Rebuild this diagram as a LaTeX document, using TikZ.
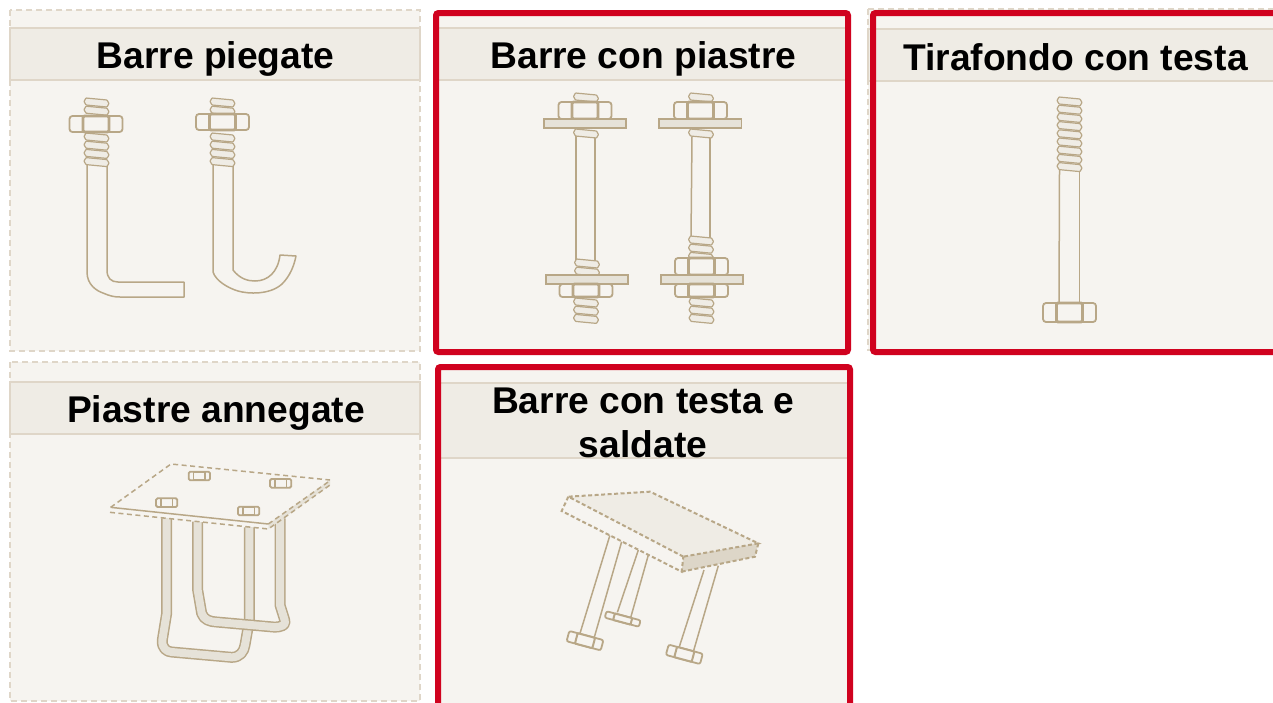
\documentclass[tikz,border=0pt]{standalone}
\usepackage{fontspec}
\setmainfont{Liberation Sans}
\definecolor{panelbg}{HTML}{F6F4F0}
\definecolor{headbg}{HTML}{EFECE5}
\definecolor{edgeline}{HTML}{DFD6C8}
\definecolor{boltcol}{HTML}{B8A787}
\definecolor{steelfill}{HTML}{E6E2D8}
\definecolor{sidefill}{HTML}{DDD6C8}
\definecolor{redframe}{HTML}{D0021F}
\tikzset{
  panelbox/.style={fill=panelbg,draw=edgeline,line width=1.2pt,dash pattern=on 6pt off 4pt},
  headband/.style={fill=headbg,draw=edgeline,line width=1.2pt},
  redbox/.style={draw=redframe,line width=6pt,rounded corners=2.5pt},
  titletext/.style={font=\fontsize{37.2}{44}\selectfont\bfseries,text=black,align=center,inner sep=0pt},
  boltline/.style={draw=boltcol,line width=1.5pt,line join=round},
  nutline/.style={draw=boltcol,line width=1.8pt,rounded corners=3pt,fill=panelbg},
  nutcore/.style={draw=boltcol,line width=2.6pt,rounded corners=1.5pt,fill=panelbg},
  plateline/.style={draw=boltcol,line width=1.5pt,fill=steelfill},
  dashedge/.style={draw=boltcol,line width=1.5pt,dash pattern=on 5pt off 3.5pt},
  dashedgeb/.style={draw=boltcol,line width=2pt,dash pattern=on 4pt off 2.5pt},
}
% thread: centre x, top y, ridges
\newcommand{\boltthread}[3]{%
  \foreach \k in {1,...,#3}{%
    \pgfmathsetmacro{\yy}{#2+2+(\k-1)*8.2}%
    \draw[boltline,line width=1.2pt,fill=headbg,rounded corners=0.6pt] (#1-12.5,\yy+1.5) -- (#1-10.5,\yy-2) -- (#1+10.5,\yy) -- (#1+12.5,\yy+3.5) -- (#1+10.5,\yy+7) -- (#1-10.5,\yy+5) -- cycle;
  }}
% nut: centre x, top y, bottom y
\newcommand{\boltnut}[3]{%
  \draw[nutline] (#1-26.5,#2) rectangle (#1+26.5,#3);
  \draw[nutcore] (#1-13,#2) rectangle (#1+13,#3);}
\newcommand{\smallnut}[2]{%
  \draw[nutline,rounded corners=1.5pt] (#1-32,#2-13) rectangle (#1+32,#2+13);
  \draw[draw=boltcol,line width=1.6pt] (#1-17,#2-12) rectangle (#1+17,#2+12);}
\begin{document}
\begin{tikzpicture}[x=1pt,y=-1pt]
\useasboundingbox (0,0) rectangle (1273,702);
\clip (0,0) rectangle (1273,702);
\fill[white] (0,0) rectangle (1273,702);

% ---------- panels
\draw[panelbox] (10,10) rectangle (420,351);
\draw[headband] (10,28) rectangle (420,80);
\node[titletext] (t1) at (215.5,59) {Barre piegate};

\fill[panelbg] (436,13) rectangle (848,352);
\draw[headband] (436,28) rectangle (848,80);
\node[titletext] (t2) at (643.5,59) {Barre con piastre};

\draw[panelbox] (868,9) rectangle (1290,350);
\draw[headband] (868,29) rectangle (1290,81);
\node[titletext] (t3) at (1075.5,57) {Tirafondo con testa};

\draw[panelbox] (10,362) rectangle (420,701);
\draw[headband] (10,382) rectangle (420,434);
\node[titletext] (t4) at (216,413) {Piastre annegate};

\fill[panelbg] (438,367) rectangle (850,712);
\draw[headband] (438,383) rectangle (850,458);
\node[titletext] (t5) at (643,423) {Barre con testa e\\saldate};

% ---------- Barre piegate
\draw[boltline] (87,160) -- (87,272) .. controls (87,285) and (97,291) .. (103,293) .. controls (110,296) and (114,297) .. (120,297) -- (184,297) -- (184,282) -- (118,282) .. controls (111,282) and (107,278) .. (107,270) -- (107,160);
\boltthread{96.5}{98}{2}
\boltthread{96.5}{133}{4}
\boltnut{96}{116}{132}

\draw[boltline] (213,160) -- (213,272) .. controls (216,281) and (228,288) .. (238,291) .. controls (248,294) and (270,295) .. (282,284) .. controls (290,276) and (294,266) .. (296,256) -- (280,255) .. controls (278,272) and (268,281) .. (255,281) .. controls (248,281) and (240,279) .. (233,270) -- (233,160);
\boltthread{222.5}{98}{2}
\boltthread{222.5}{133}{4}
\boltnut{222.5}{114}{130}

% ---------- Barre con piastre
\draw[boltline] (576,136) -- (576,262);
\draw[boltline] (595,136) -- (595,262);
\boltthread{586}{93}{1}
\boltnut{585}{102}{119}
\draw[plateline] (544,119) rectangle (626,128);
\boltthread{586}{129}{1}
\boltthread{587}{259}{2}
\draw[plateline] (546,275) rectangle (628,284);
\boltnut{586}{284}{297}
\boltthread{586}{298}{3}

\draw[boltline] (692,136) -- (691,238);
\draw[boltline] (710,136) -- (710,238);
\boltthread{701}{93}{1}
\boltnut{700.5}{102}{119}
\draw[plateline] (659,119) rectangle (741.5,128);
\boltthread{701}{129}{1}
\boltthread{701}{236}{3}
\boltnut{701.5}{258}{275}
\draw[plateline] (661,275) rectangle (743,284);
\boltnut{701.5}{284}{297}
\boltthread{701.5}{298}{3}

% ---------- Tirafondo con testa
\draw[boltline] (1059.5,170) -- (1059,303);
\draw[boltline] (1079.5,170) -- (1079.5,303);
\boltthread{1069.5}{97}{9}
\boltnut{1069.5}{303}{322}

% ---------- Piastre annegate
\begin{scope}[shift={(90,450)},scale=1/3]
  \foreach \pth in {
    {(230,205) -- (230,490) -- (217,570) .. controls (215,595) and (230,605) .. (245,606) -- (425,622) .. controls (450,622) and (462,605) .. (465,585) -- (478,510) -- (478,232)},
    {(323,215) -- (323,420) -- (335,490) .. controls (342,510) and (360,515) .. (380,516) -- (550,531) .. controls (575,532) and (590,525) .. (584,510) -- (570,465) -- (570,205)}}{
    \draw[draw=boltcol,line width=11pt,line join=round] \pth;
    \draw[draw=steelfill,line width=8pt,line join=round] \pth;
  }
  \fill[panelbg] (62,172) -- (243,42) -- (720,90) -- (535,222) -- cycle;
  \fill[steelfill] (720,90) -- (720,105) -- (535,237) -- (535,222) -- cycle;
  \fill[panelbg] (60,172) -- (535,222) -- (535,237) -- (60,187) -- cycle;
  \draw[dashedge] (62,172) -- (243,42) -- (720,90);
  \draw[dashedge] (60,187) -- (535,237) -- (720,105);
  \draw[boltline] (62,172) -- (535,222);
  \draw[dashedge] (535,222) -- (720,92);
  \smallnut{230}{158}
  \smallnut{328}{78}
  \smallnut{572}{100}
  \smallnut{476}{183}
\end{scope}

% ---------- Barre con testa e saldate
\begin{scope}[shift={(540,475)},scale=1/3]
  \draw[boltline] (210,180) -- (120,475);
  \draw[boltline] (245,200) -- (162,490);
  \draw[boltline] (295,225) -- (232,412);
  \draw[boltline] (325,240) -- (272,428);
  \draw[boltline] (492,285) -- (418,515);
  \draw[boltline] (535,272) -- (460,530);
  \fill[panelbg] (85,65) -- (65,108) -- (425,290) -- (430,245) -- cycle;
  \fill[headbg] (85,65) -- (330,50) -- (655,205) -- (430,245) -- cycle;
  \fill[sidefill] (430,245) -- (655,205) -- (645,245) -- (425,290) -- cycle;
  \draw[dashedgeb] (430,245) -- (85,65) -- (330,50) -- (655,205) -- (430,245);
  \draw[dashedgeb] (85,65) -- (65,108) -- (425,290) -- (430,245);
  \draw[dashedgeb] (425,290) -- (645,245) -- (655,205);
  \foreach \cx/\cy/\hh in {135/497/16,248/432/10,433/538/16}{
    \begin{scope}[shift={(\cx,\cy)},rotate=-15]
      \draw[draw=boltcol,line width=1.8pt,rounded corners=2pt,fill=panelbg] (-53,-\hh) rectangle (53,\hh);
      \draw[draw=boltcol,line width=2pt,rounded corners=1pt,fill=panelbg] (-27,-\hh) rectangle (27,\hh);
    \end{scope}
  }
\end{scope}

% ---------- red frames
\draw[redbox] (436,13) rectangle (848,352);
\draw[redbox] (873,13) rectangle (1295,352);
\draw[redbox] (438,367) rectangle (850,720);
\end{tikzpicture}
\end{document}
